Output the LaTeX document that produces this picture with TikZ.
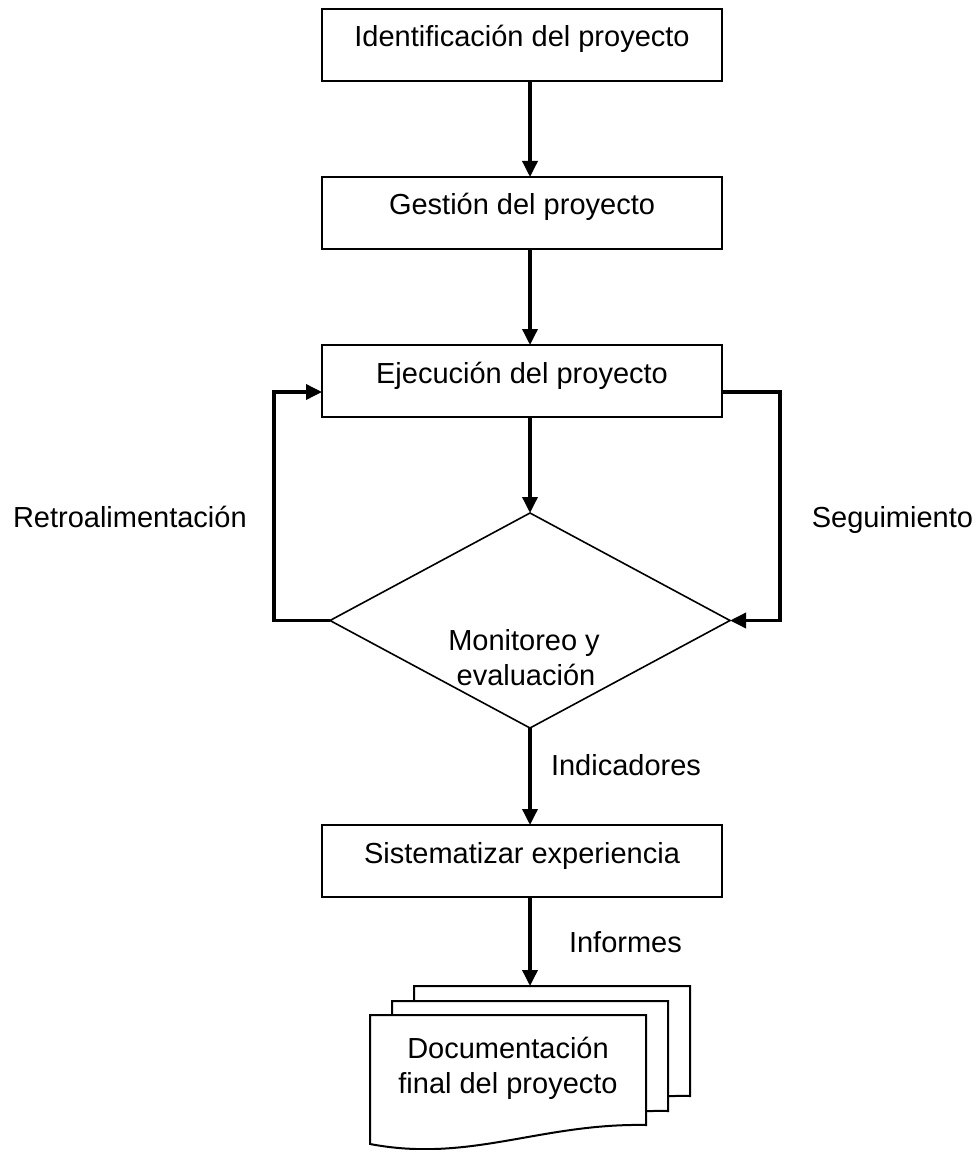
\documentclass[tikz,border=0pt]{standalone}
\usepackage{fontspec}
\setmainfont{Liberation Sans}
\usetikzlibrary{arrows.meta,shapes.geometric}
\begin{document}
\begin{tikzpicture}[x=1pt,y=-1pt,
  every node/.style={font=\fontsize{29}{35}\selectfont},
  stepbox/.style={draw,line width=2pt,rectangle,minimum width=400pt,
    inner sep=0pt,outer sep=0pt,text height=38pt,text depth=34pt},
  decision/.style={draw,line width=1.6pt,diamond,minimum width=400pt,
    minimum height=215pt,inner sep=0pt,outer sep=0pt},
  flow/.style={line width=3.5pt,line join=miter,
    -{Triangle[length=16pt,width=15pt]}},
  lbl/.style={inner sep=0pt,outer sep=0pt},
  page/.style={draw,line width=2pt,fill=white,line join=miter},
  docpage/.pic={\path[page] (0,0) -- (276,0) -- (276,110)
    .. controls (170,108) and (100,148) .. (0,129) -- cycle;}
]
\useasboundingbox (0,0) rectangle (976,1150);

% process steps
\node[stepbox] (b1) at (522,45)  {Identificación del proyecto};
\node[stepbox] (b2) at (522,213) {Gestión del proyecto};
\node[stepbox] (b3) at (522,381) {Ejecución del proyecto};
\node[decision] (dia) at (530,620.5) {};
\node[lbl,anchor=base] (m1) at (524,650) {Monitoreo y};
\node[lbl,anchor=base] (m2) at (526,685) {evaluación};
\node[stepbox] (b4) at (522,861) {Sistematizar experiencia};

% stacked output documents
\coordinate (backpage) at (414,986);
\pic at (backpage) {docpage};
\pic at (392,1001) {docpage};
\pic at (370,1015) {docpage};
\node[lbl,anchor=base] (d1) at (508,1058) {Documentación};
\node[lbl,anchor=base] (d2) at (508,1093) {final del proyecto};

% main flow
\draw[flow] (b1.south -| dia.north) -- (b2.north -| dia.north);
\draw[flow] (b2.south -| dia.north) -- (b3.north -| dia.north);
\draw[flow] (b3.south -| dia.north) -- (dia.north);
\draw[flow] (dia.south) -- (b4.north -| dia.south);
\draw[flow] (b4.south -| dia.south) -- (backpage -| dia.south);

% feedback loops
\draw[flow] (dia.west) -- ++(-56,0) |- ([yshift=-11pt]b3.west);
\draw[flow] ([yshift=-11pt]b3.east) -- ++(58,0) |- (dia.east);

% labels
\node[lbl,anchor=base west] (lr) at (13,527) {Retroalimentación};
\node[lbl,anchor=base east] (ls) at (973,527) {Seguimiento};
\node[lbl,anchor=base west] (li) at (551,775) {Indicadores};
\node[lbl,anchor=base west] (lf) at (569,952) {Informes};
\end{tikzpicture}
\end{document}
